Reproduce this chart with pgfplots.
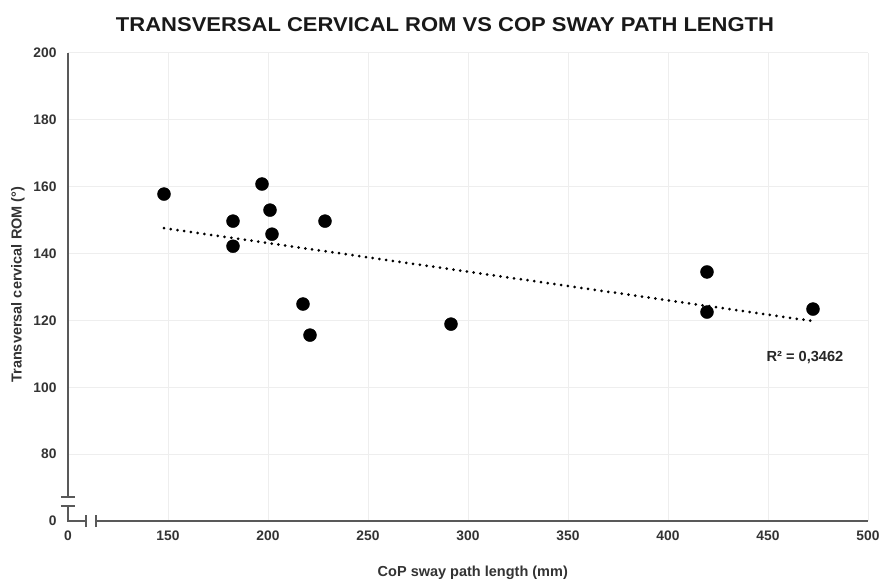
\documentclass[border=0pt]{standalone}
\usepackage{pgfplots}
\pgfplotsset{compat=1.18}
\usepackage{fontspec}
\setmainfont{Liberation Sans}
\definecolor{axgray}{HTML}{595959}
\definecolor{lblgray}{HTML}{333333}
\definecolor{gridgray}{HTML}{EEEEEE}
\begin{document}
\begin{tikzpicture}[x=1pt,y=1pt]
\begin{axis}[
  at={(0,0)}, anchor=south west,
  scale only axis, width=800pt, height=468pt,
  xmin=100, xmax=500, ymin=60, ymax=200,
  axis lines*=left, axis line style={draw=none},
  xtick={150,200,...,500}, ytick={80,100,...,200},
  extra x ticks={100}, extra x tick labels={0},
  extra y ticks={60}, extra y tick labels={0},
  extra tick style={grid=none},
  major tick length=0pt,
  grid=major, major grid style={gridgray, line width=1pt},
  /pgf/number format/assume math mode=true,
  ticklabel style={font=\fontsize{13.8}{15}\selectfont\bfseries, text=lblgray},
  xticklabel style={yshift=-6pt},
  yticklabel style={xshift=-8pt},
  xlabel={CoP sway path length (mm)},
  ylabel={Transversal cervical ROM (°)},
  label style={font=\fontsize{14.5}{16}\selectfont\bfseries, text=lblgray},
  xlabel style={at={(axis description cs:0.506,-0.111)}, anchor=center},
  ylabel style={at={(axis description cs:-0.0625,0.505)}, anchor=center},
  clip=false,
]
% data points
\addplot[only marks, mark=*, mark size=6.5pt, black] coordinates {
  (148,157.8) (197,160.8) (182.5,149.7) (201,153.0) (202,145.8)
  (182.5,142.2) (228.5,149.7) (217.5,124.9) (221,115.6) (291.5,118.9)
  (419.5,134.5) (419.5,122.5) (472.5,123.4)
};
% linear trend line
\addplot[black, line width=3pt, line cap=round, dash pattern=on 0pt off 6.8pt] coordinates {
  (148,147.6) (472.5,119.8)
};
\node[font=\fontsize{14.6}{16}\selectfont\bfseries, text=black!85] at (axis cs:468.5,109) {R² = 0,3462};
\end{axis}
% axis lines with breaks
\draw[axgray, line width=2.4pt] (0,468) -- (0,24);
\draw[axgray, line width=2.4pt, line join=miter] (0,15) -- (0,0) -- (18,0);
\draw[axgray, line width=2.4pt] (28,0) -- (800,0);
\draw[axgray, line width=2.4pt] (-7,24) -- (7,24) (-7,15) -- (7,15);
\draw[axgray, line width=2.4pt] (18,-6) -- (18,6) (28,-6) -- (28,6);
% title
\node[font=\fontsize{20}{22}\selectfont\bfseries, text=black!90, xscale=1.1] at (377,496) {TRANSVERSAL CERVICAL ROM VS COP SWAY PATH LENGTH};
\pgfresetboundingbox
\path (-68,-60) rectangle (813,521);
\end{tikzpicture}
\end{document}
